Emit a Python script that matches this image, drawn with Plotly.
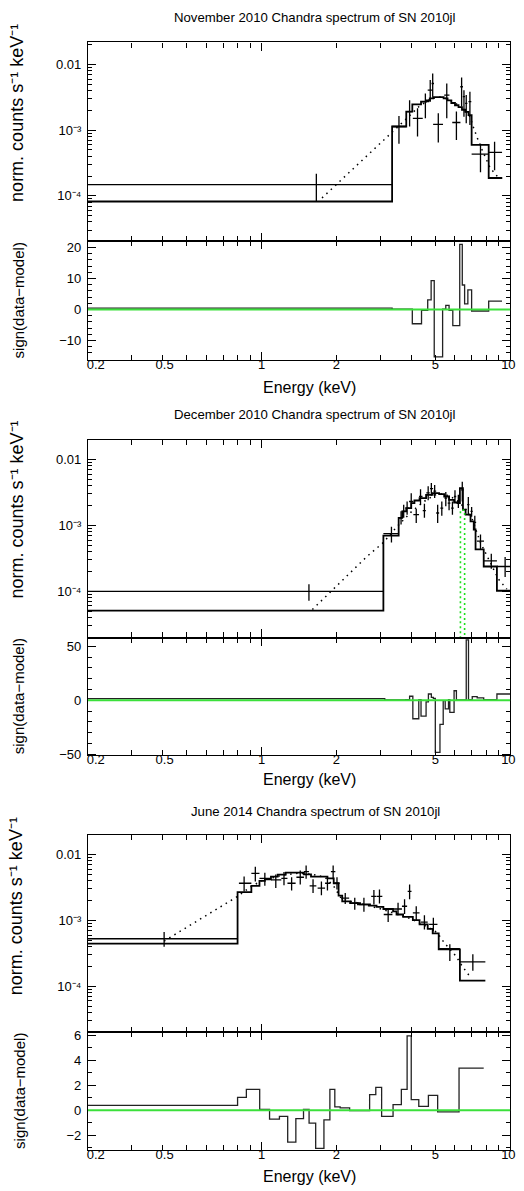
import math
import plotly.graph_objects as go

W, H = 524, 1191
FONT = "Liberation Sans, Arial, Helvetica, sans-serif"

# ===================== DATA =====================
titles = ["November 2010 Chandra spectrum of SN 2010jl",
          "December 2010 Chandra spectrum of SN 2010jl",
          "June 2014 Chandra spectrum of SN 2010jl"]

# ---- Panel 1: November 2010 ----
nov_E   = [1.66, 3.57, 3.94, 4.24, 4.56, 4.77, 4.88, 5.14, 5.56, 6.08, 6.38, 6.52, 6.66, 6.89, 7.6, 8.66]
nov_Elo = [0.15, 3.35, 3.82, 4.06, 4.38, 4.66, 4.83, 4.90, 5.43, 5.85, 6.30, 6.45, 6.59, 6.80, 7.0, 8.2]
nov_Ehi = [3.35, 3.82, 4.04, 4.45, 4.73, 4.88, 4.94, 5.37, 5.70, 6.31, 6.46, 6.59, 6.73, 6.98, 8.2, 9.28]
nov_y   = [1.48e-4, 1.14e-3, 1.92e-3, 1.52e-3, 2.72e-3, 4.08e-3, 5.15e-3, 1.23e-3, 3.43e-3, 1.31e-3, 4.59e-3, 3.24e-3, 2.56e-3, 2.72e-3, 4.33e-4, 4.6e-4]
nov_ylo = [8.3e-5, 6.2e-4, 1.14e-3, 8.0e-4, 1.52e-3, 2.72e-3, 3.24e-3, 6.5e-4, 1.52e-3, 7.1e-4, 2.29e-3, 1.61e-3, 1.28e-3, 1.2e-3, 2.29e-4, 2.45e-4]
nov_yhi = [2.18e-4, 1.65e-3, 2.87e-3, 2.16e-3, 3.64e-3, 5.8e-3, 7.3e-3, 1.81e-3, 5.15e-3, 1.92e-3, 6.35e-3, 4.08e-3, 3.43e-3, 3.85e-3, 6.2e-4, 6.7e-4]
nov_model_edges = [0.2, 3.35, 3.82, 4.04, 4.38, 4.59, 4.75, 4.9, 5.2, 5.4, 5.6, 5.8, 6.0, 6.2, 6.4, 6.6, 6.8, 7.0, 8.2, 9.3]
nov_model_vals  = [8.2e-5, 1.14e-3, 1.92e-3, 2.48e-3, 2.72e-3, 2.85e-3, 3.05e-3, 3.2e-3, 3.2e-3, 3.05e-3, 2.85e-3, 2.6e-3, 2.4e-3, 2.25e-3, 2.05e-3, 1.9e-3, 1.7e-3, 6.0e-4, 1.87e-4]
nov_cont_E = [1.75, 2.9, 3.43, 3.9, 4.3, 4.8, 5.2, 5.6, 6.0, 6.5, 6.9, 7.14, 7.6, 8.32, 9.0]
nov_cont_v = [9.3e-5, 5.5e-4, 1.0e-3, 1.6e-3, 2.3e-3, 3.0e-3, 3.2e-3, 3.0e-3, 2.6e-3, 2.1e-3, 1.6e-3, 1.07e-3, 5.66e-4, 2.65e-4, 1.87e-4]
nov_res_edges = [0.2, 3.35, 4.04, 4.4, 4.66, 4.81, 4.95, 5.35, 5.51, 5.68, 5.88, 6.27, 6.42, 6.56, 6.76, 7.0, 8.2, 9.28]
nov_res_vals  = [0.45, 0.1, -4.6, -0.3, 3.1, 9.3, -15.3, 0.1, 1.3, -0.3, -5.2, 21, 7.9, 1.8, 6.3, -0.5, 2.7]

# ---- Panel 2: December 2010 ----
dec_E   = [1.55, 3.33, 3.64, 3.73, 3.85, 4.0, 4.19, 4.36, 4.52, 4.68, 4.82, 4.97, 5.11, 5.31, 5.51, 5.68, 5.86, 6.0, 6.19, 6.42, 6.79, 7.0, 7.21, 7.6, 8.4, 9.55]
dec_Elo = [0.15, 3.09, 3.56, 3.68, 3.79, 3.92, 4.08, 4.30, 4.45, 4.60, 4.76, 4.91, 5.04, 5.24, 5.44, 5.61, 5.79, 5.94, 6.12, 6.34, 6.72, 6.93, 7.12, 7.35, 7.85, 8.85]
dec_Ehi = [3.09, 3.56, 3.68, 3.79, 3.92, 4.08, 4.30, 4.44, 4.58, 4.75, 4.90, 5.04, 5.18, 5.38, 5.58, 5.75, 5.93, 6.07, 6.26, 6.50, 6.86, 7.07, 7.30, 7.85, 8.85, 10.5]
dec_y   = [1.0e-4, 7.5e-4, 1.3e-3, 1.63e-3, 1.83e-3, 2.3e-3, 1.45e-3, 2.74e-3, 1.67e-3, 3.1e-3, 3.6e-3, 3.3e-3, 1.54e-3, 1.83e-3, 2.59e-3, 2.18e-3, 1.83e-3, 2.74e-3, 2.3e-3, 3.45e-3, 2.06e-3, 1.63e-3, 1.11e-3, 5.77e-4, 2.89e-4, 2.38e-4]
dec_ylo = [7.2e-5, 5.5e-4, 1.03e-3, 1.3e-3, 1.45e-3, 1.83e-3, 1.09e-3, 2.06e-3, 1.3e-3, 2.4e-3, 2.8e-3, 2.6e-3, 1.09e-3, 1.4e-3, 1.95e-3, 1.7e-3, 1.45e-3, 2.2e-3, 1.83e-3, 2.3e-3, 1.45e-3, 1.35e-3, 8.65e-4, 4.4e-4, 2.2e-4, 1.65e-4]
dec_yhi = [1.28e-4, 9.5e-4, 1.63e-3, 2.06e-3, 2.3e-3, 3.08e-3, 1.77e-3, 3.54e-3, 2.13e-3, 3.9e-3, 4.4e-3, 4.1e-3, 2.06e-3, 2.3e-3, 3.2e-3, 2.8e-3, 2.3e-3, 3.4e-3, 2.9e-3, 4.6e-3, 2.7e-3, 1.9e-3, 1.4e-3, 7.3e-4, 3.7e-4, 3.3e-4]
dec_model_edges = [0.2, 3.09, 3.56, 3.68, 3.82, 4.0, 4.12, 4.32, 4.59, 4.88, 5.18, 5.43, 5.68, 5.95, 6.14, 6.28, 6.46, 6.62, 6.93, 7.14, 7.26, 7.83, 8.85, 10.5]
dec_model_vals  = [5.1e-5, 7.0e-4, 1.3e-3, 1.63e-3, 1.83e-3, 2.18e-3, 2.38e-3, 2.59e-3, 2.9e-3, 3.08e-3, 2.98e-3, 2.74e-3, 2.44e-3, 2.22e-3, 2.18e-3, 3.66e-3, 1.73e-3, 1.45e-3, 1.15e-3, 8.65e-4, 4.33e-4, 2.38e-4, 1.02e-4]
dec_cont_E = [1.6, 2.65, 3.09, 3.5, 4.0, 4.5, 5.0, 5.3, 5.7, 6.2, 6.6, 7.05, 7.6, 8.2, 8.98, 9.7]
dec_cont_v = [5.3e-5, 3.36e-4, 5.5e-4, 9.5e-4, 1.6e-3, 2.3e-3, 2.9e-3, 3.0e-3, 2.8e-3, 2.3e-3, 1.8e-3, 1.22e-3, 5.45e-4, 3.06e-4, 1.53e-4, 1.08e-4]
dec_line_E = [6.31, 6.31, 6.56, 6.56]
dec_line_v = [1e-6, 1.7e-3, 1.7e-3, 1e-6]
dec_res_edges = [0.2, 3.13, 3.8, 3.94, 4.06, 4.29, 4.38, 4.59, 4.69, 4.82, 4.91, 5.0, 5.22, 5.38, 5.48, 5.65, 5.72, 5.95, 6.08, 6.66, 6.8, 7.04, 7.37, 7.83, 8.85, 10.5]
dec_res_vals  = [1.5, 0.3, 0.5, 3.7, -17.1, 0.6, -14.7, -1.5, 5.8, 2.7, 1.8, -48.3, -22.4, -0.3, -8, 0.5, -11.3, 8.8, 0.3, 56, 0.5, 3.3, 2.2, 0.6, 5.8]

# ---- Panel 3: June 2014 ----
jun_E   = [0.405, 0.85, 0.943, 1.03, 1.14, 1.23, 1.32, 1.43, 1.51, 1.61, 1.74, 1.84, 1.94, 2.01, 2.17, 2.37, 2.58, 2.83, 2.98, 3.23, 3.54, 3.76, 3.94, 4.19, 4.52, 4.91, 5.72, 7.08]
jun_Elo = [0.15, 0.81, 0.909, 0.98, 1.09, 1.2, 1.27, 1.38, 1.48, 1.56, 1.68, 1.8, 1.9, 1.97, 2.09, 2.27, 2.42, 2.76, 2.91, 3.1, 3.41, 3.67, 3.87, 4.06, 4.38, 4.72, 5.16, 6.28]
jun_Ehi = [0.8, 0.909, 0.98, 1.09, 1.2, 1.27, 1.37, 1.48, 1.55, 1.66, 1.8, 1.89, 1.98, 2.06, 2.25, 2.47, 2.73, 2.9, 3.06, 3.36, 3.67, 3.85, 4.01, 4.32, 4.66, 5.1, 6.28, 7.95]
jun_y   = [5.27e-4, 3.66e-3, 5.18e-3, 4.35e-3, 4.12e-3, 4.35e-3, 3.66e-3, 4.51e-3, 5.49e-3, 3.35e-3, 3.08e-3, 3.66e-3, 5.49e-3, 3.66e-3, 2.18e-3, 1.83e-3, 1.73e-3, 2.31e-3, 2.31e-3, 1.23e-3, 1.49e-3, 1.64e-3, 2.75e-3, 1.3e-3, 9.4e-4, 8.7e-4, 3.73e-4, 2.35e-4]
jun_ylo = [4.0e-4, 2.75e-3, 3.89e-3, 3.35e-3, 3.1e-3, 3.4e-3, 2.85e-3, 3.5e-3, 4.3e-3, 2.6e-3, 2.4e-3, 2.85e-3, 4.2e-3, 2.95e-3, 1.77e-3, 1.45e-3, 1.35e-3, 1.75e-3, 1.8e-3, 9.5e-4, 1.2e-3, 1.25e-3, 2.1e-3, 1.0e-3, 7.3e-4, 6.8e-4, 2.43e-4, 1.72e-4]
jun_yhi = [6.65e-4, 4.62e-3, 6.53e-3, 5.3e-3, 4.95e-3, 5.4e-3, 4.5e-3, 5.7e-3, 6.8e-3, 4.2e-3, 3.9e-3, 4.5e-3, 6.8e-3, 4.5e-3, 2.6e-3, 2.2e-3, 2.2e-3, 2.9e-3, 2.95e-3, 1.5e-3, 1.85e-3, 2.1e-3, 3.5e-3, 1.64e-3, 1.2e-3, 1.1e-3, 4.34e-4, 3.07e-4]
jun_model_edges = [0.2, 0.8, 0.909, 0.98, 1.03, 1.09, 1.16, 1.25, 1.48, 1.58, 1.84, 1.95, 2.04, 2.11, 2.27, 2.49, 2.73, 2.9, 3.09, 3.38, 3.49, 3.71, 4.06, 4.32, 4.66, 4.88, 5.16, 6.28, 7.95]
jun_model_vals  = [4.44e-4, 2.68e-3, 3.35e-3, 3.98e-3, 4.2e-3, 4.62e-3, 4.95e-3, 5.31e-3, 5.0e-3, 4.62e-3, 4.35e-3, 3.66e-3, 2.37e-3, 1.95e-3, 1.83e-3, 1.75e-3, 1.67e-3, 1.6e-3, 1.49e-3, 1.37e-3, 1.23e-3, 1.13e-3, 1.01e-3, 8.7e-4, 7.45e-4, 6.35e-4, 3.65e-4, 1.22e-4]
jun_cont_E = [0.405, 0.8, 0.9, 1.0, 1.2, 1.4, 1.6, 1.8, 1.95, 2.1, 2.5, 3.0, 3.5, 4.0, 4.5, 5.0, 5.18, 5.43, 6.04, 6.43, 6.89]
jun_cont_v = [4.87e-4, 2.31e-3, 3.2e-3, 4.0e-3, 4.8e-3, 5.2e-3, 5.0e-3, 4.5e-3, 3.3e-3, 2.1e-3, 1.8e-3, 1.5e-3, 1.25e-3, 1.05e-3, 8.5e-4, 6.8e-4, 5.93e-4, 4.6e-4, 2.9e-4, 2.0e-4, 1.41e-4]
jun_res_edges = [0.2, 0.8, 0.868, 0.982, 1.076, 1.179, 1.273, 1.373, 1.474, 1.552, 1.65, 1.781, 1.882, 1.97, 2.07, 2.26, 2.72, 2.88, 3.04, 3.38, 3.65, 3.85, 4.0, 4.29, 4.69, 5.11, 6.23, 7.83]
jun_res_vals  = [0.4, 1.03, 1.67, 0.08, -0.71, -0.48, -2.54, -0.66, 0.08, -1.03, -3.04, -0.76, 1.67, 0.27, 0.19, -0.02, 1.25, 1.83, -0.48, 0.45, 1.67, 5.95, 0.85, 0.32, 1.19, -0.13, 3.37]

# axis ticks / labels
x_range = [0.2, 10.0]
x_major_ticks = [1, 10]
x_minor_ticks = [0.2, 0.3, 0.4, 0.5, 0.6, 0.7, 0.8, 0.9, 2, 3, 4, 5, 6, 7, 8, 9]
x_label_pos = [0.215, 0.407, 1.0, 2.0, 5.0, 9.84]
x_label_text = ["0.2", "0.5", "1", "2", "5", "10"]
y_main_ticks = [1e-4, 1e-3, 1e-2]
y_main_text = ["10\u207b\u2074", "10\u207b\u00b3", "0.01"]
y_main_minor = [m * 10.0 ** e for e in (-5, -4, -3, -2) for m in range(2, 10)]
y_main_title = "norm. counts s\u207b\u00b9 keV\u207b\u00b9"
y_res_title = "sign(data\u2212model)"
x_title = "Energy (keV)"

main_ranges = [[-4.692, -1.662], [-4.702, -1.70], [-4.692, -1.70]]
res_ranges = [[-16.3, 22.0], [-51.0, 58.0], [-3.2, 6.26]]
res_ticks = [[-10, 0, 10, 20], [-50, 0, 50], [-2, 0, 2, 4, 6]]
res_ticktext = [["\u221210", "0", "10", "20"], ["\u221250", "0", "50"], ["\u22122", "0", "2", "4", "6"]]
res_minor_dtick = [2, 10, 1]

# pixel layout (top, boundary, bottom) of each panel
panel_px = [(38.7, 239.3, 359.0), (439.3, 639.0, 757.7), (837.7, 1036.7, 1156.0)]
title_px = [14, 414, 814]
ylab_main_px = [110, 510, 910]
xlab_px = [387, 782, 1182]
X0, X1 = 88, 515

panels = [
    dict(E=nov_E, Elo=nov_Elo, Ehi=nov_Ehi, y=nov_y, ylo=nov_ylo, yhi=nov_yhi,
         me=nov_model_edges, mv=nov_model_vals, ce=nov_cont_E, cv=nov_cont_v,
         re=nov_res_edges, rv=nov_res_vals, le=None, lv=None),
    dict(E=dec_E, Elo=dec_Elo, Ehi=dec_Ehi, y=dec_y, ylo=dec_ylo, yhi=dec_yhi,
         me=dec_model_edges, mv=dec_model_vals, ce=dec_cont_E, cv=dec_cont_v,
         re=dec_res_edges, rv=dec_res_vals, le=dec_line_E, lv=dec_line_v),
    dict(E=jun_E, Elo=jun_Elo, Ehi=jun_Ehi, y=jun_y, ylo=jun_ylo, yhi=jun_yhi,
         me=jun_model_edges, mv=jun_model_vals, ce=jun_cont_E, cv=jun_cont_v,
         re=jun_res_edges, rv=jun_res_vals, le=None, lv=None),
]

# ===================== FIGURE =====================
fig = go.Figure()
layout = {}
annotations = []
shapes = []

def py(px):
    return 1 - px / H

axis_common = dict(showline=True, linecolor="black", linewidth=1.3, mirror="ticks",
                   ticks="inside", tickcolor="black", tickwidth=1.2, showgrid=False,
                   zeroline=False, tickfont=dict(family=FONT, size=13, color="black"))

for p, d in enumerate(panels):
    a = 2 * p + 1   # main
    b = 2 * p + 2   # residual
    o = 7 + p       # label overlay
    xa, ya = ("x" if a == 1 else f"x{a}"), ("y" if a == 1 else f"y{a}")
    xb, yb = f"x{b}", f"y{b}"
    xo = f"x{o}"
    top, mid, bot = panel_px[p]

    # data crosses
    fig.add_trace(go.Scatter(
        x=d["E"], y=d["y"], mode="markers", marker=dict(size=0.1, color="black"),
        error_x=dict(type="data", symmetric=False,
                     array=[h - e for h, e in zip(d["Ehi"], d["E"])],
                     arrayminus=[e - l for l, e in zip(d["Elo"], d["E"])],
                     width=0, thickness=1.3, color="black"),
        error_y=dict(type="data", symmetric=False,
                     array=[h - v for h, v in zip(d["yhi"], d["y"])],
                     arrayminus=[v - l for l, v in zip(d["ylo"], d["y"])],
                     width=0, thickness=1.3, color="black"),
        xaxis=xa, yaxis=ya, hoverinfo="skip"))
    # model histogram
    fig.add_trace(go.Scatter(x=d["me"], y=d["mv"] + [d["mv"][-1]], mode="lines",
                             line=dict(color="black", width=1.8, shape="hv"),
                             xaxis=xa, yaxis=ya, hoverinfo="skip"))
    # smooth model (dotted)
    fig.add_trace(go.Scatter(x=d["ce"], y=d["cv"], mode="lines",
                             line=dict(color="black", width=1.5, dash="1.5px,4.5px"),
                             xaxis=xa, yaxis=ya, hoverinfo="skip"))
    if d["le"] is not None:
        fig.add_trace(go.Scatter(x=d["le"], y=d["lv"], mode="lines",
                                 line=dict(color="#1ee01e", width=1.6, dash="2px,3px"),
                                 xaxis=xa, yaxis=ya, hoverinfo="skip"))
    # residual histogram
    fig.add_trace(go.Scatter(x=d["re"], y=d["rv"] + [d["rv"][-1]], mode="lines",
                             line=dict(color="#222222", width=1.3, shape="hv"),
                             xaxis=xb, yaxis=yb, hoverinfo="skip"))
    # dummy trace for label axis
    fig.add_trace(go.Scatter(x=[1.0], y=[0.0], mode="markers", marker=dict(size=0.1, opacity=0),
                             xaxis=xo, yaxis=yb, hoverinfo="skip", showlegend=False))

    shapes.append(dict(type="line", xref=f"{xb} domain", x0=0, x1=1, yref=yb, y0=0, y1=0,
                       line=dict(color="#3be03b", width=2)))

    xdict = dict(axis_common, type="log", range=[math.log10(x_range[0]), math.log10(x_range[1])],
                 domain=[X0 / W, X1 / W], tickvals=x_major_ticks, ticklen=8, showticklabels=False,
                 minor=dict(tickvals=x_minor_ticks, ticks="inside", ticklen=5,
                            tickcolor="black", tickwidth=1.2, showgrid=False))
    layout["xaxis" if a == 1 else f"xaxis{a}"] = dict(xdict, anchor=ya)
    layout[f"xaxis{b}"] = dict(xdict, anchor=yb)
    layout[f"xaxis{o}"] = dict(type="log", range=[math.log10(x_range[0]), math.log10(x_range[1])],
                               overlaying=xb, anchor=yb, tickvals=x_label_pos, ticktext=x_label_text,
                               ticks="", showline=False, showgrid=False, zeroline=False,
                               ticklabelstandoff=-5,
                               tickfont=dict(family=FONT, size=13, color="black"))
    layout["yaxis" if a == 1 else f"yaxis{a}"] = dict(
        axis_common, type="log", range=main_ranges[p], domain=[py(mid), py(top)], anchor=xa,
        tickvals=y_main_ticks, ticktext=y_main_text, ticklen=8, ticklabelstandoff=3,
        minor=dict(tickvals=y_main_minor, ticks="inside", ticklen=4,
                   tickcolor="black", tickwidth=1.0, showgrid=False))
    layout[f"yaxis{b}"] = dict(
        axis_common, type="linear", range=res_ranges[p], domain=[py(bot), py(mid)], anchor=xb,
        tickvals=res_ticks[p], ticktext=res_ticktext[p], ticklen=8, ticklabelstandoff=3,
        minor=dict(dtick=res_minor_dtick[p], ticks="inside", ticklen=4,
                   tickcolor="black", tickwidth=1.0, showgrid=False))

    annotations.append(dict(text=titles[p], xref="paper", yref="paper", x=318 / W, y=py(title_px[p]),
                            xanchor="center", yanchor="middle", showarrow=False,
                            font=dict(family=FONT, size=13.2, color="black")))
    annotations.append(dict(text=y_main_title,
                            xref="paper", yref="paper", x=16 / W, y=py(ylab_main_px[p]),
                            xanchor="center", yanchor="middle", textangle=-90, showarrow=False,
                            font=dict(family=FONT, size=18, color="black")))
    annotations.append(dict(text=y_res_title, xref="paper", yref="paper", x=18 / W,
                            y=py((mid + bot) / 2), xanchor="center", yanchor="middle", textangle=-90,
                            showarrow=False, font=dict(family=FONT, size=15, color="black")))
    annotations.append(dict(text=x_title, xref="paper", yref="paper", x=312 / W, y=py(xlab_px[p]),
                            xanchor="center", yanchor="middle", showarrow=False,
                            font=dict(family=FONT, size=16, color="black")))

fig.update_layout(width=W, height=H, margin=dict(l=0, r=0, t=0, b=0), showlegend=False,
                  paper_bgcolor="white", plot_bgcolor="white",
                  annotations=annotations, shapes=shapes, **layout)
fig.write_html("out.html", config={"displayModeBar": False},
               post_script="document.body.style.margin='0';document.body.style.overflow='hidden';")
